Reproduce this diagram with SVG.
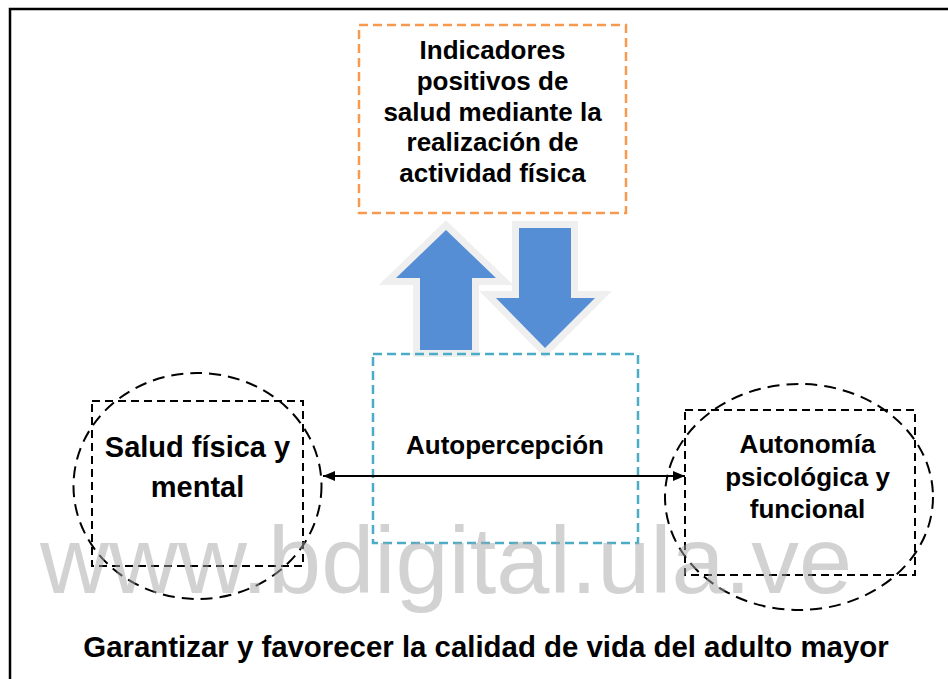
<svg xmlns="http://www.w3.org/2000/svg" width="948" height="679" viewBox="0 0 948 679">
<defs>
<style>
.t{font-family:"Liberation Sans",Arial,sans-serif;font-weight:bold;fill:#000;text-anchor:middle}
.bx{fill:none;stroke:#000;stroke-width:2;stroke-dasharray:8 5}
.el{fill:none;stroke:#000;stroke-width:2;stroke-dasharray:12 7}
.halo{fill:#EFEFEF;stroke:#EFEFEF;stroke-width:14;stroke-linejoin:miter}
.arr{fill:#558ED5}
</style>
<marker id="ah" viewBox="0 0 12 10" refX="12" refY="5" markerWidth="12" markerHeight="10" markerUnits="userSpaceOnUse" orient="auto-start-reverse">
<path d="M0,0 L12,5 L0,10 Z" fill="#000"/>
</marker>
</defs>
<rect width="948" height="679" fill="#fff"/>
<rect x="10" y="9" width="960" height="700" fill="none" stroke="#000" stroke-width="2.5"/>

<g id="arrows-vertical">
<polygon class="halo" points="446,230 496,278 472,278 472,350 420,350 420,278 396,278"/>
<polygon class="arr" points="446,230 496,278 472,278 472,350 420,350 420,278 396,278"/>
<polygon class="halo" points="519,228 571,228 571,298 595,298 545,348 496,298 519,298"/>
<polygon class="arr" points="519,228 571,228 571,298 595,298 545,348 496,298 519,298"/>
</g>

<g id="node-indicadores">
<rect x="359" y="25" width="267" height="188" fill="none" stroke="#F79A50" stroke-width="2.5" stroke-dasharray="9 5"/>
<text class="t" font-size="26" x="492.5" y="59">Indicadores</text>
<text class="t" font-size="26" x="492.5" y="90">positivos de</text>
<text class="t" font-size="26" x="492.5" y="120.5">salud mediante la</text>
<text class="t" font-size="26" x="492.5" y="151">realización de</text>
<text class="t" font-size="26" x="492.5" y="182">actividad física</text>
</g>

<g id="node-autopercepcion">
<rect x="373" y="354" width="265" height="189" fill="none" stroke="#4BACC6" stroke-width="2.5" stroke-dasharray="9 5"/>
<text class="t" font-size="26" x="505" y="454">Autopercepción</text>
</g>

<g id="node-salud">
<ellipse class="el" cx="197.5" cy="486" rx="124" ry="113"/>
<rect class="bx" x="92" y="401" width="211" height="165"/>
<text class="t" font-size="29" x="197.5" y="457">Salud física y</text>
<text class="t" font-size="29" x="197.5" y="497">mental</text>
</g>

<g id="node-autonomia">
<ellipse class="el" cx="799" cy="497" rx="134" ry="113"/>
<rect class="bx" x="685" y="410" width="230" height="165"/>
<text class="t" font-size="26" x="807.5" y="453">Autonomía</text>
<text class="t" font-size="26" x="807.5" y="485.5">psicológica y</text>
<text class="t" font-size="26" x="807.5" y="518">funcional</text>
</g>

<g id="connectors">
<line x1="323" y1="476" x2="685" y2="476" stroke="#000" stroke-width="2" marker-start="url(#ah)" marker-end="url(#ah)"/>
</g>

<text class="t" font-size="29.4" x="486" y="657">Garantizar y favorecer la calidad de vida del adulto mayor</text>

<text x="40" y="593" font-family="Liberation Sans, Arial, sans-serif" font-size="94" fill="#A6A6A6" fill-opacity="0.5" textLength="812" lengthAdjust="spacingAndGlyphs">www.bdigital.ula.ve</text>
</svg>
